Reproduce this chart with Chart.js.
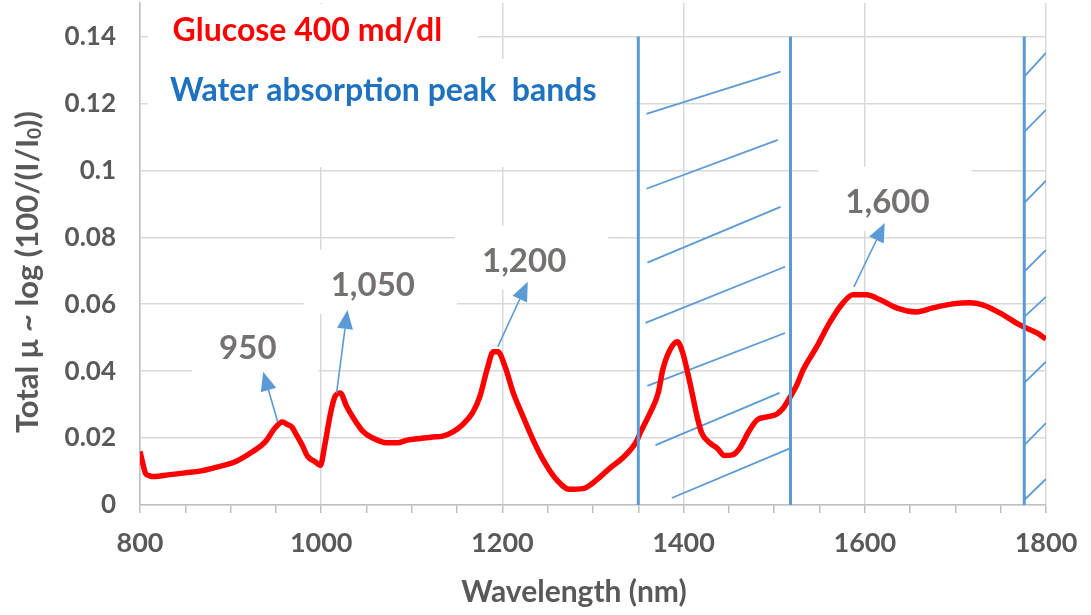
<!DOCTYPE html>
<html>
<head>
<meta charset="utf-8">
<script src="https://cdn.jsdelivr.net/npm/chart.js@4.4.1/dist/chart.umd.min.js"></script>
<style>
  html, body { margin: 0; padding: 0; background: #fff; }
</style>
</head>
<body>
<canvas id="chart" width="1091" height="615"></canvas>
<script>
// glucose spectrum
const wavelength = [800, 803, 806, 810, 816, 831, 850, 868, 886, 905, 924, 938, 949, 957, 963, 968, 971, 979, 985, 993,
  999, 1004, 1010, 1015, 1021, 1028, 1035, 1046, 1057, 1072, 1084, 1095, 1109, 1123, 1134, 1145, 1156, 1167, 1175, 1183,
  1190, 1195, 1203, 1212, 1223, 1234, 1245, 1260, 1274, 1289, 1304, 1319, 1333, 1348, 1352, 1363, 1372, 1377, 1385, 1393,
  1399, 1407, 1415, 1420, 1429, 1437, 1445, 1454, 1462, 1471, 1481, 1492, 1503, 1510, 1517, 1525, 1532, 1547, 1561, 1576,
  1587, 1602, 1617, 1635, 1657, 1675, 1697, 1716, 1730, 1749, 1771, 1790, 1800];
const absorbance = [0.0160, 0.0125, 0.0095, 0.0088, 0.0085, 0.0090, 0.0096, 0.0102, 0.0114, 0.0129, 0.0159, 0.0188, 0.0230, 0.0248, 0.0240, 0.0232, 0.0218, 0.0179, 0.0145, 0.0130,
  0.0118, 0.0180, 0.0270, 0.0323, 0.0335, 0.0295, 0.0262, 0.0220, 0.0200, 0.0186, 0.0186, 0.0194, 0.0199, 0.0203, 0.0206, 0.0218, 0.0240, 0.0275, 0.0323, 0.0404,
  0.0458, 0.0458, 0.0413, 0.0335, 0.0263, 0.0194, 0.0135, 0.0075, 0.0047, 0.0049, 0.0075, 0.0111, 0.0141, 0.0190, 0.0215, 0.0275, 0.0335, 0.0404, 0.0464, 0.0488,
  0.0455, 0.0365, 0.0263, 0.0215, 0.0185, 0.0170, 0.0148, 0.0150, 0.0170, 0.0215, 0.0254, 0.0263, 0.0272, 0.0290, 0.0320, 0.0359, 0.0404, 0.0473, 0.0544, 0.0604,
  0.0628, 0.0628, 0.0613, 0.0589, 0.0577, 0.0589, 0.0601, 0.0604, 0.0598, 0.0574, 0.0538, 0.0514, 0.0496];

// water bands: vertical edges and hatch strokes
const bandEdges = [1350, 1518, 1776];
const bandTop = 0.14;
const hatchX0 = [1359, 1359, 1360, 1358, 1360, 1369, 1387, 1776, 1776, 1776, 1776, 1776, 1776, 1776, 1776];
const hatchY0 = [0.1169, 0.0945, 0.0724, 0.0544, 0.0356, 0.0179, 0.0021, 0.1280, 0.1115, 0.0903, 0.0697, 0.0562, 0.0365, 0.0179, 0.0015];
const hatchX1 = [1507, 1504, 1507, 1512, 1512, 1506, 1518, 1800, 1800, 1800, 1800, 1800, 1800, 1800, 1800];
const hatchY1 = [0.1295, 0.1091, 0.0891, 0.0712, 0.0514, 0.0335, 0.0170, 0.1351, 0.1181, 0.0969, 0.0762, 0.0622, 0.0428, 0.0245, 0.0078];

// peak callouts
const peakLabels = ['950', '1,050', '1,200', '1,600'];
const peakLabelX = [919, 1057, 1224, 1625];
const peakLabelY = [0.0467, 0.0655, 0.0727, 0.0903];
const arrowFromX = [952, 1017, 1195, 1588];
const arrowFromY = [0.0248, 0.0335, 0.0473, 0.0652];
const arrowToX = [936, 1029, 1228, 1622];
const arrowToY = [0.0398, 0.0583, 0.0667, 0.0843];

// axes
const xTicks = [800, 850, 900, 950, 1000, 1050, 1100, 1150, 1200, 1250, 1300, 1350, 1400, 1450, 1500, 1550, 1600, 1650, 1700, 1750, 1800];
const xTickLabels = ['800', '1000', '1200', '1400', '1600', '1800'];
const yTicks = [0, 0.02, 0.04, 0.06, 0.08, 0.1, 0.12, 0.14];
const yTickLabels = ['0', '0.02', '0.04', '0.06', '0.08', '0.1', '0.12', '0.14'];

const BLUE = '#5b9bd5';
const GRID = '#d9d9d9';
const FONT = 'Lato';

const bandData = bandEdges.flatMap(e => [{x: e, y: 0}, {x: e, y: bandTop}, {x: e, y: null}]);
const hatchData = hatchX0.flatMap((x0, i) => [{x: x0, y: hatchY0[i]}, {x: hatchX1[i], y: hatchY1[i]}, {x: hatchX1[i], y: null}]);

function whiteBox(ctx, x, y, w, h) {
    ctx.fillStyle = '#fff';
    ctx.fillRect(x, y, w, h);
}

const overlay = {
    id: 'overlay',
    beforeDatasetsDraw(chart) {
        const {ctx, scales: {x, y}} = chart;
        ctx.save();
        ctx.font = `bold 33px ${FONT}`;
        peakLabels.forEach((t, i) => {
            const w = ctx.measureText(t).width;
            const cx = x.getPixelForValue(peakLabelX[i]);
            const cy = y.getPixelForValue(peakLabelY[i]);
            whiteBox(ctx, cx - w / 2 - 27, cy - 36, w + 69, 64);
        });
        // title boxes
        whiteBox(ctx, chart.chartArea.left + 8, chart.chartArea.top + 1, 330, 56);
        whiteBox(ctx, chart.chartArea.left + 8, chart.chartArea.top + 56, 488, 108);
        ctx.restore();
    },
    afterDatasetsDraw(chart) {
        const {ctx, scales: {x, y}} = chart;
        ctx.save();
        // arrows
        ctx.strokeStyle = BLUE;
        ctx.fillStyle = BLUE;
        ctx.lineWidth = 1.6;
        arrowFromX.forEach((fx, i) => {
            const x0 = x.getPixelForValue(fx), y0 = y.getPixelForValue(arrowFromY[i]);
            const x1 = x.getPixelForValue(arrowToX[i]), y1 = y.getPixelForValue(arrowToY[i]);
            const a = Math.atan2(y1 - y0, x1 - x0);
            const hl = 19, hw = 8;
            const bx = x1 - hl * Math.cos(a), by = y1 - hl * Math.sin(a);
            ctx.beginPath();
            ctx.moveTo(x0, y0);
            ctx.lineTo(bx, by);
            ctx.stroke();
            ctx.beginPath();
            ctx.moveTo(x1, y1);
            ctx.lineTo(bx + hw * Math.sin(a), by - hw * Math.cos(a));
            ctx.lineTo(bx - hw * Math.sin(a), by + hw * Math.cos(a));
            ctx.closePath();
            ctx.fill();
        });
        // peak labels
        ctx.fillStyle = '#767171';
        ctx.font = `bold 33px ${FONT}`;
        ctx.textAlign = 'center';
        ctx.textBaseline = 'middle';
        peakLabels.forEach((t, i) => {
            ctx.fillText(t, x.getPixelForValue(peakLabelX[i]), y.getPixelForValue(peakLabelY[i]));
        });
        // legend-like titles
        ctx.textAlign = 'left';
        ctx.textBaseline = 'alphabetic';
        ctx.font = `bold 32px ${FONT}`;
        ctx.fillStyle = '#ff0000';
        ctx.fillText('Glucose 400 md/dl', x.getPixelForValue(836), 41);
        ctx.fillStyle = '#1f72bf';
        ctx.fillText('Water absorption peak  bands', x.getPixelForValue(833), 101);
        ctx.restore();
    },
    afterDraw(chart) {
        const {ctx} = chart;
        ctx.save();
        ctx.fillStyle = '#595959';
        ctx.font = `bold 30px ${FONT}`;
        ctx.textAlign = 'center';
        ctx.textBaseline = 'middle';
        ctx.fillText('Wavelength (nm)', 574, 592);
        // y title with subscript
        ctx.translate(28, 272);
        ctx.rotate(-Math.PI / 2);
        const main = 'Total \u03bc ~ log (100/(I/I';
        const tail = '))';
        ctx.font = `bold 31px ${FONT}`;
        const wMain = ctx.measureText(main).width;
        const wTail = ctx.measureText(tail).width;
        ctx.font = `bold 19px ${FONT}`;
        const wSub = ctx.measureText('0').width;
        let px = -(wMain + wSub + wTail) / 2;
        ctx.textAlign = 'left';
        ctx.font = `bold 31px ${FONT}`;
        ctx.fillText(main, px, 0);
        px += wMain;
        ctx.font = `bold 19px ${FONT}`;
        ctx.fillText('0', px, 7);
        px += wSub;
        ctx.font = `bold 31px ${FONT}`;
        ctx.fillText(tail, px, 0);
        ctx.restore();
    }
};

const ctx = document.getElementById('chart').getContext('2d');
const chart = new Chart(ctx, {
    type: 'line',
    data: {
        datasets: [{
            label: 'Water absorption peak bands',
            data: bandData,
            borderColor: BLUE,
            borderWidth: 3,
            pointRadius: 0,
            spanGaps: false
        }, {
            label: 'Glucose 400 md/dl',
            data: wavelength.map((w, i) => ({x: w, y: absorbance[i]})),
            borderColor: '#ff0000',
            borderWidth: 5.5,
            pointRadius: 0,
            cubicInterpolationMode: 'monotone'
        }, {
            label: 'hatch',
            data: hatchData,
            borderColor: BLUE,
            borderWidth: 1.8,
            pointRadius: 0,
            spanGaps: false
        }]
    },
    options: {
        responsive: false,
        animation: false,
        layout: {padding: {top: 3, right: 45, bottom: 0, left: 0}},
        plugins: {legend: {display: false}, tooltip: {enabled: false}},
        scales: {
            x: {
                type: 'linear',
                min: 800,
                max: 1800,
                afterBuildTicks: s => { s.ticks = xTicks.map(v => ({value: v})); },
                afterFit: s => { s.height = 110; s.paddingLeft = 0; s.paddingRight = 0; },
                ticks: {
                    autoSkip: false,
                    maxRotation: 0,
                    padding: 14,
                    color: '#595959',
                    font: {family: FONT, size: 27, weight: 'bold'},
                    callback: v => xTickLabels.includes(String(v)) ? String(v) : ''
                },
                grid: {
                    color: c => (c.tick && c.tick.value % 200 === 0) ? GRID : 'rgba(0,0,0,0)',
                    tickColor: '#bfbfbf',
                    tickLength: 8,
                    lineWidth: 1.5
                },
                border: {color: '#bfbfbf', width: 1.5}
            },
            y: {
                min: 0,
                max: 0.15,
                afterBuildTicks: s => { s.ticks = yTicks.map(v => ({value: v})); },
                afterFit: s => { s.width = 140; s.paddingTop = 0; s.paddingBottom = 0; },
                ticks: {
                    padding: 24,
                    color: '#595959',
                    font: {family: FONT, size: 26, weight: 'bold'},
                    callback: (v, i) => yTickLabels[i]
                },
                grid: {color: GRID, lineWidth: 1.5, drawTicks: false},
                border: {color: '#bfbfbf', width: 1.5}
            }
        }
    },
    plugins: [overlay]
});
</script>
</body>
</html>
